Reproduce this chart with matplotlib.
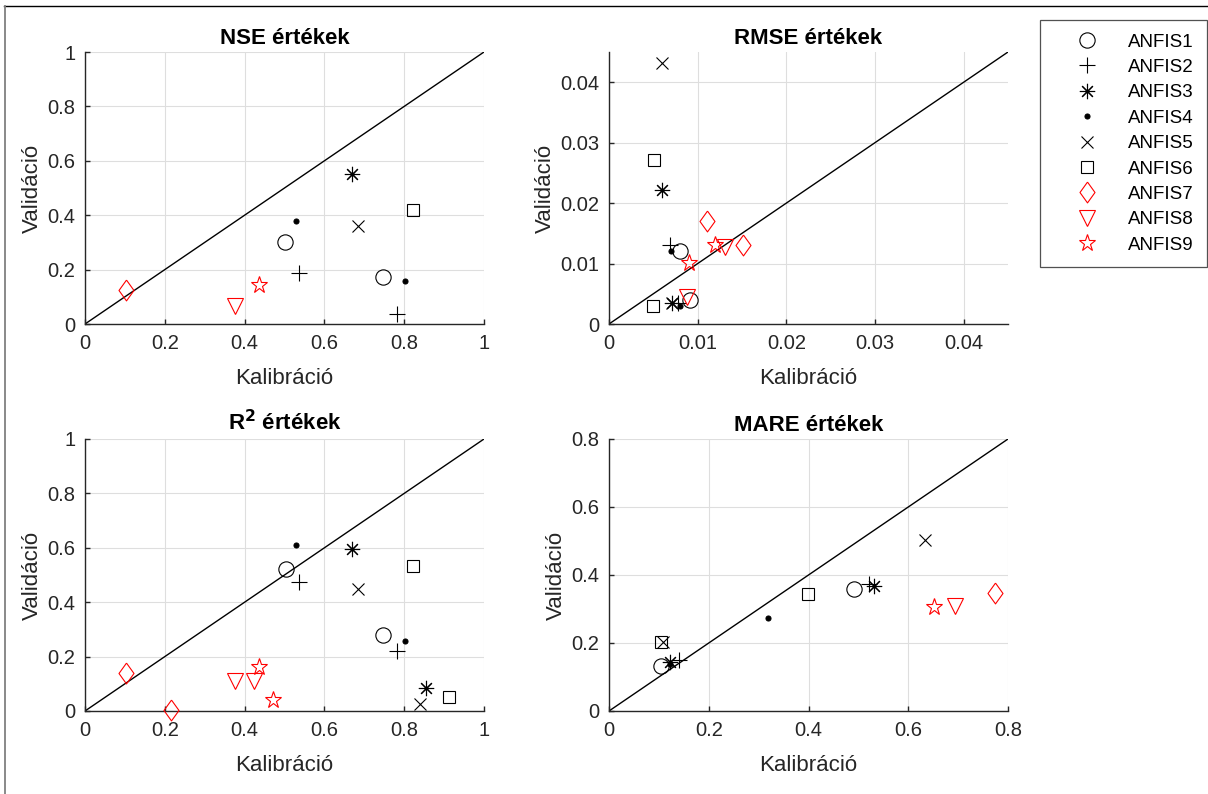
import matplotlib
matplotlib.use("Agg")
import matplotlib.pyplot as plt
from matplotlib.lines import Line2D
from matplotlib.ticker import FuncFormatter

plt.rcParams['font.family'] = ['Liberation Sans', 'DejaVu Sans']

names = ['ANFIS1', 'ANFIS2', 'ANFIS3', 'ANFIS4', 'ANFIS5',
         'ANFIS6', 'ANFIS7', 'ANFIS8', 'ANFIS9']

# NSE (calibration, validation)
nse_cal = [[0.502, 0.746], [0.537, 0.783], [0.670], [0.530, 0.802], [0.683],
           [0.823], [0.102], [0.376], [0.436]]
nse_val = [[0.300, 0.173], [0.189, 0.036], [0.553], [0.379, 0.158], [0.359],
           [0.420], [0.125], [0.068], [0.143]]

# RMSE
rmse_cal = [[0.0080, 0.0091], [0.0069, 0.0078], [0.0060, 0.0071], [0.0070, 0.0080],
            [0.0060, 0.0071], [0.0051, 0.0050], [0.0110, 0.0151], [0.0088, 0.0131],
            [0.0090, 0.0120]]
rmse_val = [[0.0120, 0.0040], [0.0130, 0.0034], [0.0221, 0.0034], [0.0121, 0.0030],
            [0.0432, 0.0034], [0.0272, 0.0030], [0.0171, 0.0131], [0.0045, 0.0127],
            [0.0101, 0.0131]]

# R^2
r2_cal = [[0.503, 0.746], [0.537, 0.783], [0.670, 0.854], [0.530, 0.802],
          [0.683, 0.840], [0.823, 0.912], [0.102, 0.215], [0.376, 0.423],
          [0.436, 0.470]]
r2_val = [[0.521, 0.280], [0.474, 0.221], [0.595, 0.086], [0.610, 0.257],
          [0.449, 0.025], [0.532, 0.050], [0.141, 0.004], [0.112, 0.112],
          [0.163, 0.040]]

# MARE
mare_cal = [[0.492, 0.1045], [0.521, 0.141], [0.531, 0.1226], [0.318, 0.1226],
            [0.633, 0.109], [0.398, 0.1045], [0.774], [0.693], [0.652]]
mare_val = [[0.359, 0.133], [0.375, 0.150], [0.368, 0.143], [0.273, 0.137],
            [0.503, 0.202], [0.344, 0.202], [0.348], [0.309], [0.305]]

panels = [
    ('NSE értékek', nse_cal, nse_val, 1.0, [0, 0.2, 0.4, 0.6, 0.8, 1.0]),
    ('RMSE értékek', rmse_cal, rmse_val, 0.045, [0, 0.01, 0.02, 0.03, 0.04]),
    ('R$^{\\mathbf{2}}$ értékek', r2_cal, r2_val, 1.0, [0, 0.2, 0.4, 0.6, 0.8, 1.0]),
    ('MARE értékek', mare_cal, mare_val, 0.8, [0, 0.2, 0.4, 0.6, 0.8]),
]

diamond = [(0, 1), (0.72, 0), (0, -1), (-0.72, 0), (0, 1)]
styles = [
    dict(marker='o', ms=11, mfc='none', mec='black'),
    dict(marker='+', ms=11, mfc='none', mec='black'),
    dict(marker=(8, 2, 0), ms=11, mfc='none', mec='black'),
    dict(marker='o', ms=3.6, mfc='black', mec='black'),
    dict(marker='x', ms=8.5, mfc='none', mec='black'),
    dict(marker='s', ms=8, mfc='none', mec='black'),
    dict(marker=diamond, ms=15, mfc='none', mec='red'),
    dict(marker='v', ms=11.5, mfc='none', mec='red'),
    dict(marker='*', ms=12.5, mfc='none', mec='red'),
]

W, H = 1208, 794
fig = plt.figure(figsize=(W / 100, H / 100), dpi=100)

boxes = [(85, 52), (609, 52), (85, 439), (609, 439)]
aw, ah = 399, 272
dark = '#262626'

def fmt(v, pos):
    return '%g' % v

handles = []
for k, (title, cal, val, lim, ticks) in enumerate(panels):
    x0, y0 = boxes[k]
    ax = fig.add_axes([x0 / W, 1 - (y0 + ah) / H, aw / W, ah / H])
    ax.set_xlim(0, lim)
    ax.set_ylim(0, lim)
    ax.set_xticks(ticks)
    ax.set_yticks(ticks)
    ax.xaxis.set_major_formatter(FuncFormatter(fmt))
    ax.yaxis.set_major_formatter(FuncFormatter(fmt))
    ax.grid(True, color='#dedede', lw=0.8)
    ax.set_axisbelow(True)
    for s in ['top', 'right']:
        ax.spines[s].set_visible(False)
    for s in ['left', 'bottom']:
        ax.spines[s].set_color(dark)
        ax.spines[s].set_linewidth(1.0)
    ax.tick_params(direction='in', length=3.5, width=1.0, colors=dark,
                   labelsize=14.5, pad=7)
    ax.plot([0, lim], [0, lim], color='black', lw=1.0, zorder=2)
    hs = []
    for i in range(9):
        h, = ax.plot(cal[i], val[i], ls='none', mew=0.8, clip_on=False,
                     zorder=3, **styles[i])
        hs.append(h)
    if k == 0:
        handles = hs
    ax.set_title(title, fontsize=16, fontweight='bold', pad=6)
    ax.set_xlabel('Kalibráció', fontsize=16, color=dark, labelpad=11)
    ax.set_ylabel('Validáció', fontsize=16, color=dark, labelpad=3)

leg = fig.legend(handles, names, loc='upper left',
                 bbox_to_anchor=(1040 / W, 1 - 20 / H), borderaxespad=0,
                 fontsize=13.5, handlelength=3.57, handletextpad=0.4,
                 labelspacing=0.44, borderpad=0.72, fancybox=False,
                 frameon=True, edgecolor=dark)
leg.get_frame().set_linewidth(0.9)

# screenshot frame
fig.add_artist(Line2D([4 / W, 1], [1 - 5.5 / H, 1 - 5.5 / H],
                      transform=fig.transFigure, color='black', lw=1.0))
fig.add_artist(Line2D([4.5 / W, 4.5 / W], [0, 1 - 5.5 / H],
                      transform=fig.transFigure, color='#808080', lw=1.3))

fig.savefig('out.png', dpi=100)
